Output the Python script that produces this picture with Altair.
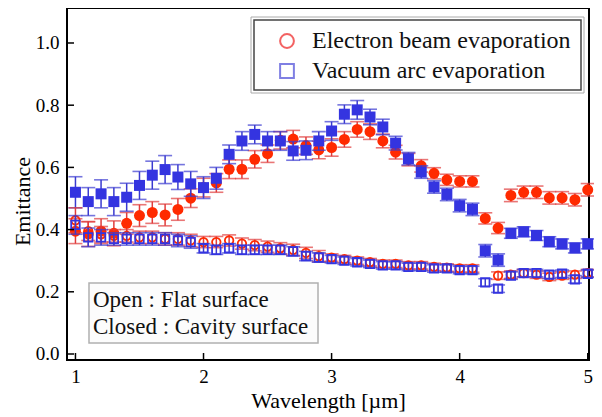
import altair as alt
import pandas as pd

wavelength = [1.0, 1.1, 1.2, 1.3, 1.4, 1.5, 1.6, 1.7, 1.8, 1.9,
              2.0, 2.1, 2.2, 2.3, 2.4, 2.5, 2.6, 2.7, 2.8, 2.9,
              3.0, 3.1, 3.2, 3.3, 3.4, 3.5, 3.6, 3.7, 3.8, 3.9,
              4.0, 4.1, 4.2, 4.3, 4.4, 4.5, 4.6, 4.7, 4.8, 4.9, 5.0]

# Electron beam evaporation, cavity surface (closed red circles)
eb_cavity = [0.395, 0.386, 0.395, 0.388, 0.42, 0.445, 0.455, 0.447, 0.465, 0.501,
             0.535, 0.55, 0.594, 0.594, 0.626, 0.644, 0.687, 0.691, 0.67, 0.656,
             0.664, 0.69, 0.722, 0.715, 0.685, 0.649, 0.625, 0.605, 0.581, 0.56,
             0.555, 0.555, 0.436, 0.405, 0.51, 0.52, 0.52, 0.502, 0.502, 0.496, 0.528]
eb_cavity_err = [0.04, 0.04, 0.04, 0.04, 0.035, 0.035, 0.035, 0.035, 0.035, 0.03,
                 0.03, 0.03, 0.03, 0.03, 0.028, 0.028, 0.028, 0.028, 0.028, 0.028,
                 0.028, 0.025, 0.025, 0.025, 0.022, 0.022, 0.02, 0.02, 0.018, 0.018,
                 0.018, 0.018, 0.018, 0.018, 0.02, 0.02, 0.02, 0.02, 0.02, 0.02, 0.02]

# Vacuum arc evaporation, cavity surface (closed blue squares)
va_cavity = [0.52, 0.49, 0.515, 0.49, 0.504, 0.542, 0.575, 0.593, 0.569, 0.547,
             0.535, 0.565, 0.642, 0.685, 0.706, 0.685, 0.685, 0.653, 0.655, 0.685,
             0.717, 0.771, 0.785, 0.762, 0.73, 0.678, 0.628, 0.585, 0.537, 0.513,
             0.477, 0.465, 0.332, 0.302, 0.388, 0.393, 0.381, 0.361, 0.354, 0.341, 0.354]
va_cavity_err = [0.05, 0.045, 0.045, 0.045, 0.045, 0.045, 0.045, 0.045, 0.04, 0.04,
                 0.035, 0.035, 0.03, 0.03, 0.03, 0.03, 0.03, 0.03, 0.03, 0.03,
                 0.03, 0.03, 0.03, 0.025, 0.025, 0.022, 0.02, 0.02, 0.02, 0.02,
                 0.02, 0.02, 0.02, 0.02, 0.016, 0.016, 0.016, 0.016, 0.016, 0.016, 0.016]

# Electron beam evaporation, flat surface (open red circles)
eb_flat = [0.43, 0.395, 0.385, 0.38, 0.38, 0.375, 0.375, 0.37, 0.37, 0.365,
           0.36, 0.36, 0.365, 0.355, 0.35, 0.345, 0.34, 0.335, 0.325, 0.315,
           0.31, 0.305, 0.30, 0.295, 0.29, 0.29, 0.285, 0.285, 0.28, 0.278,
           0.275, 0.275, None, 0.252, 0.255, 0.26, 0.255, 0.248, 0.252, 0.255, 0.26]
eb_flat_err = [0.04, 0.03, 0.025, 0.02, 0.02, 0.02, 0.02, 0.02, 0.02, 0.02,
               0.018, 0.018, 0.018, 0.018, 0.018, 0.018, 0.018, 0.018, 0.018, 0.018,
               0.012, 0.012, 0.012, 0.012, 0.012, 0.012, 0.012, 0.012, 0.012, 0.012,
               0.012, 0.012, 0.012, 0.012, 0.012, 0.012, 0.012, 0.012, 0.012, 0.012, 0.012]

# Vacuum arc evaporation, flat surface (open blue squares)
va_flat = [0.415, 0.375, 0.375, 0.37, 0.37, 0.37, 0.37, 0.37, 0.365, 0.36,
           0.34, 0.335, 0.34, 0.335, 0.335, 0.335, 0.335, 0.33, 0.315, 0.31,
           0.305, 0.30, 0.295, 0.29, 0.285, 0.285, 0.28, 0.28, 0.275, 0.275,
           0.27, 0.27, 0.23, 0.21, 0.252, 0.26, 0.26, 0.255, 0.258, 0.24, 0.258]
va_flat_err = [0.03, 0.03, 0.025, 0.02, 0.02, 0.02, 0.02, 0.02, 0.02, 0.02,
               0.015, 0.015, 0.015, 0.015, 0.015, 0.015, 0.015, 0.015, 0.015, 0.015,
               0.012, 0.012, 0.012, 0.012, 0.012, 0.012, 0.012, 0.012, 0.012, 0.012,
               0.012, 0.012, 0.012, 0.012, 0.012, 0.012, 0.012, 0.012, 0.012, 0.012, 0.012]

x_ticks = [1, 2, 3, 4, 5]
y_ticks = [0.0, 0.2, 0.4, 0.6, 0.8, 1.0]

legend_labels = ["Electron beam evaporation", "Vacuum arc evaporation"]
note_lines = ["Open : Flat surface", "Closed : Cavity surface"]

RED = "#ff2a00"
RED_BAR = "#e03c3c"
BLUE = "#3434e0"
BLUE_BAR = "#3a3ad0"
FONT = "Liberation Serif"


def frame(vals, errs):
    rows = []
    for w, v, e in zip(wavelength, vals, errs):
        if v is None:
            continue
        rows.append({"wl": w, "v": v, "lo": v - e, "hi": v + e})
    return pd.DataFrame(rows)


xs = alt.Scale(domain=[0.934, 5.01], nice=False, zero=False)
ys = alt.Scale(domain=[-0.0193, 1.1125], nice=False, zero=False)
x_axis = alt.Axis(values=x_ticks, format="d", title="Wavelength [µm]",
                  labelPadding=7, titleY=47, titleBaseline="alphabetic")
y_axis = alt.Axis(values=y_ticks, format=".1f", title="Emittance",
                  labelPadding=8, titleX=-45, titleY=193, titleBaseline="middle")


def X(field):
    return alt.X(field, type="quantitative", scale=xs, axis=x_axis)


def Y(field):
    return alt.Y(field, type="quantitative", scale=ys, axis=y_axis)


def series_layers(df, color, bar_color, shape, filled, size):
    base = alt.Chart(df)
    bar = base.mark_rule(color=bar_color, strokeWidth=1.5).encode(
        x=X("wl"), y=Y("lo"), y2="hi")
    cap_lo = base.mark_tick(orient="horizontal", color=bar_color, size=14, thickness=1.6).encode(
        x=X("wl"), y=Y("lo"))
    cap_hi = base.mark_tick(orient="horizontal", color=bar_color, size=14, thickness=1.6).encode(
        x=X("wl"), y=Y("hi"))
    if filled:
        pt = base.mark_point(shape=shape, filled=True, size=size, color=color, opacity=1).encode(
            x=X("wl"), y=Y("v"))
    else:
        pt = base.mark_point(shape=shape, filled=False, size=size, color=color,
                             strokeWidth=1.8, opacity=1).encode(x=X("wl"), y=Y("v"))
    return [bar, cap_lo, cap_hi, pt]


layers = []
layers += series_layers(frame(eb_cavity, eb_cavity_err), RED, RED_BAR, "circle", True, 121)
layers += series_layers(frame(va_cavity, va_cavity_err), BLUE, BLUE_BAR, "square", True, 121)
layers += series_layers(frame(eb_flat, eb_flat_err), RED, RED_BAR, "circle", False, 72)
layers += series_layers(frame(va_flat, va_flat_err), BLUE, BLUE_BAR, "square", False, 72)

# inward axis ticks
xt = alt.Chart(pd.DataFrame({"t": x_ticks})).mark_rule(color="black", strokeWidth=1.5).encode(
    x=X("t"), y=alt.value(352), y2=alt.value(345))
yt = alt.Chart(pd.DataFrame({"t": y_ticks})).mark_rule(color="black", strokeWidth=1.5).encode(
    y=Y("t"), x=alt.value(0), x2=alt.value(7))
layers += [xt, yt]

one = pd.DataFrame({"a": [0]})

# legend box
leg_outer = alt.Chart(one).mark_rect(fill="white", stroke="#aaaaaa", strokeWidth=1).encode(
    x=alt.value(184), x2=alt.value(517), y=alt.value(9), y2=alt.value(85))
leg_inner = alt.Chart(one).mark_rect(fill="white", stroke="#444444", strokeWidth=1.5).encode(
    x=alt.value(187), x2=alt.value(514), y=alt.value(12), y2=alt.value(82))
leg_c = alt.Chart(one).mark_point(shape="circle", filled=False, size=190, color="#ee2020",
                                   strokeWidth=2).encode(x=alt.value(220), y=alt.value(33))
leg_s = alt.Chart(one).mark_point(shape="square", filled=False, size=190, color="#4a4ad8",
                                   strokeWidth=2).encode(x=alt.value(220), y=alt.value(63))
leg_t1 = alt.Chart(one).mark_text(align="left", baseline="middle", font=FONT, fontSize=24,
                                  color="#111111").encode(
    x=alt.value(245), y=alt.value(33), text=alt.value(legend_labels[0]))
leg_t2 = alt.Chart(one).mark_text(align="left", baseline="middle", font=FONT, fontSize=24,
                                  color="#111111").encode(
    x=alt.value(245), y=alt.value(63), text=alt.value(legend_labels[1]))

# note box
note_box = alt.Chart(one).mark_rect(fill="#fcfcfc", stroke="#b0b0b0", strokeWidth=1.5).encode(
    x=alt.value(22), x2=alt.value(251), y=alt.value(275), y2=alt.value(335))
note1 = alt.Chart(one).mark_text(align="left", baseline="middle", font=FONT, fontSize=23,
                                 color="#111111").encode(
    x=alt.value(26), y=alt.value(292), text=alt.value(note_lines[0]))
note2 = alt.Chart(one).mark_text(align="left", baseline="middle", font=FONT, fontSize=23,
                                 color="#111111").encode(
    x=alt.value(26), y=alt.value(319), text=alt.value(note_lines[1]))

layers += [leg_outer, leg_inner, leg_c, leg_s, leg_t1, leg_t2, note_box, note1, note2]

chart = alt.layer(*layers).properties(
    width=522, height=352,
    autosize=alt.AutoSizeParams(type="none"),
    padding={"left": 59, "top": 0, "right": 5, "bottom": 56},
).configure_view(
    stroke="black", strokeWidth=2
).configure_axis(
    labelFont=FONT, titleFont=FONT, labelFontSize=19, titleFontSize=22,
    labelColor="black", titleColor="black", titleFontWeight="normal",
    domain=False, ticks=False, grid=False
)

chart.save("out.html", embed_options={"renderer": "svg", "actions": False})
